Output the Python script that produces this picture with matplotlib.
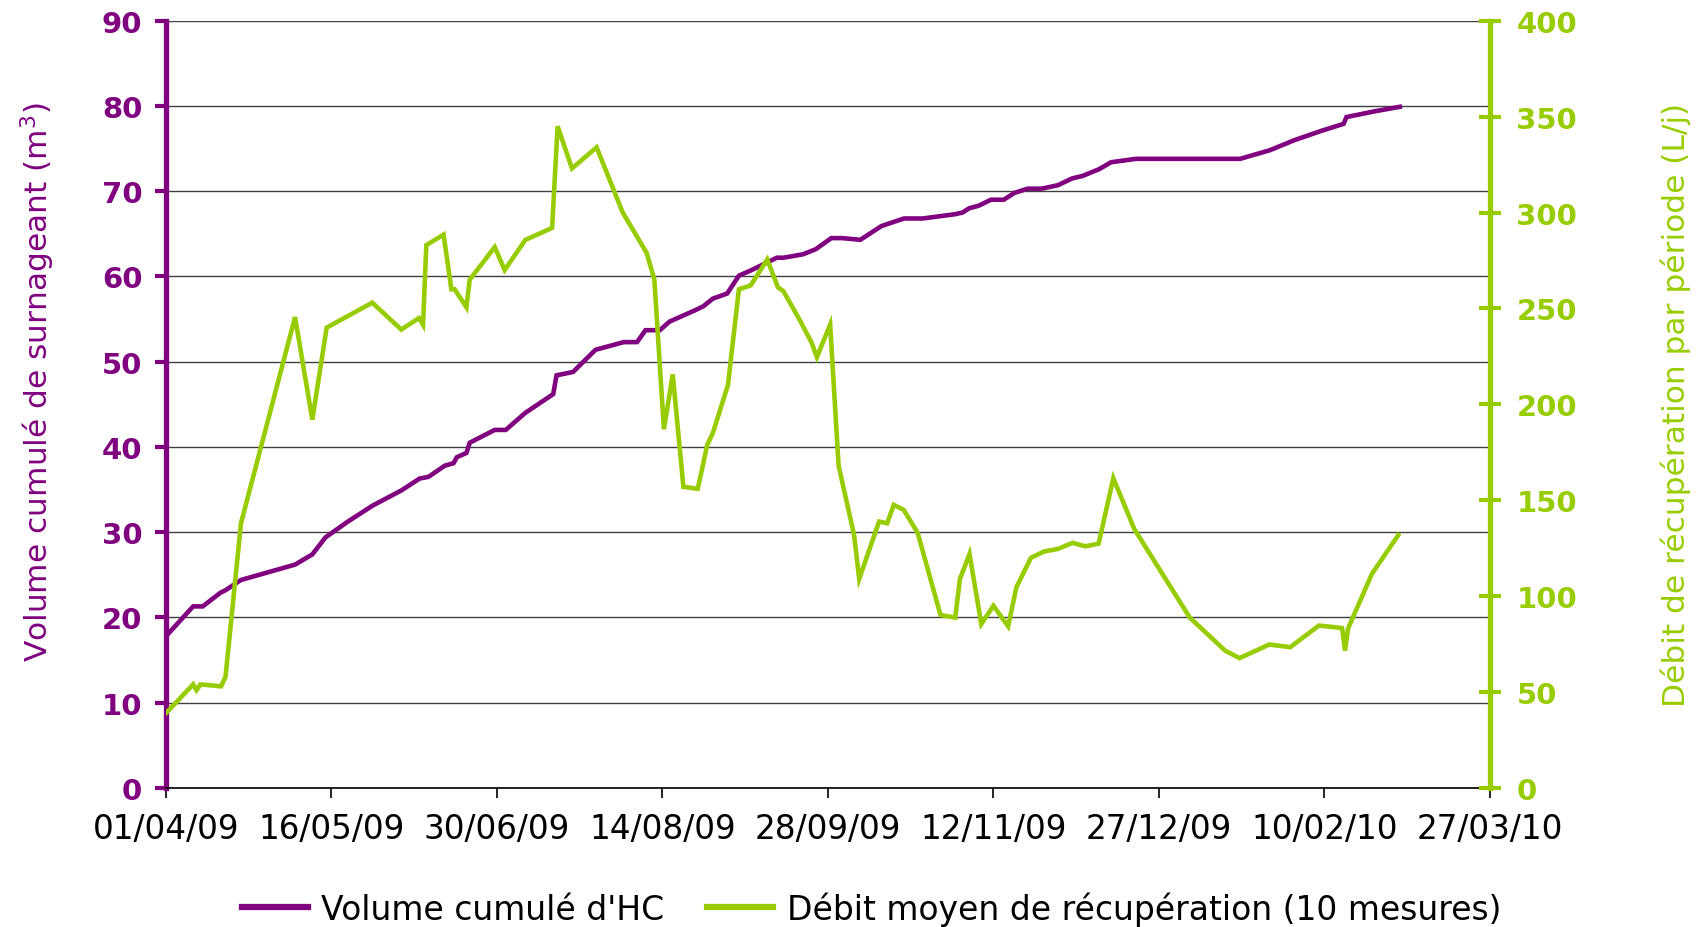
import matplotlib
matplotlib.use("Agg")
import matplotlib.pyplot as plt
import numpy as np

# jours depuis le 01/04/2009
vol_days = [0, 7.4, 10, 14.8, 16.2, 20.4, 35.1, 39.8, 43.4, 49.3, 56.1, 64, 69, 71.4, 75.8,
            78.2, 79.1, 81.7, 82.6, 89.4, 92.4, 97.7, 105.3, 106.2, 110.7, 116.8, 124.5,
            128.1, 130.4, 134.3, 136.9, 143.7, 146.1, 148.7, 152.6, 155.8, 159, 166.1,
            167.9, 173.2, 176.7, 180.9, 183.8, 188.8, 194.5, 196.5, 200.7, 205.7, 211,
            214.5, 216.6, 218.4, 221, 224.3, 227.8, 230.7, 234.3, 238.1, 242.5, 246.4,
            249.3, 253.8, 257, 263.8, 292.1, 300.1, 306.9, 314.3, 320.2, 321, 329, 335.5]
vol = [17.8, 21.3, 21.3, 22.9, 23.2, 24.4, 26.2, 27.4, 29.4, 31.2, 33.1, 34.9, 36.3, 36.5,
       37.8, 38.1, 38.8, 39.3, 40.5, 42.0, 42.0, 44.0, 46.2, 48.4, 48.8, 51.4, 52.3, 52.3,
       53.7, 53.7, 54.7, 56.0, 56.5, 57.4, 58.0, 60.1, 60.7, 62.2, 62.2, 62.6, 63.2, 64.5,
       64.5, 64.3, 65.9, 66.2, 66.8, 66.8, 67.1, 67.3, 67.5, 68.0, 68.3, 69.0, 69.0, 69.8,
       70.3, 70.3, 70.7, 71.5, 71.8, 72.6, 73.4, 73.8, 73.8, 74.8, 76.0, 77.1, 77.9, 78.7,
       79.4, 79.9]

deb_days = [0, 7.4, 8.3, 9.4, 15, 16.2, 20.4, 35.1, 39.8, 43.7, 56.1, 64, 68.8, 69.9, 70.8,
            75.5, 77.6, 78.5, 81.7, 82.6, 89.4, 92.1, 97.7, 105, 106.5, 110.4, 117.1, 124.2,
            130.7, 132.8, 135.4, 137.8, 140.7, 144.6, 147.2, 148.7, 152.8, 155.8, 159, 163.5,
            166.4, 167.9, 172.6, 175.6, 177, 180.6, 182.9, 187.1, 188.5, 193.9, 196.1, 197.9,
            200.6, 204.4, 210.6, 214.6, 215.9, 218.5, 221.7, 225, 229, 231.25, 235.2, 238.75,
            242.5, 246.5, 250, 253.6, 257.6, 263.3, 278.4, 288, 291.9, 300, 305.7, 313.5,
            319.8, 320.6, 321.4, 327.9, 335.1]
debit = [39, 54, 51, 54, 53, 58, 138, 245.5, 192, 240, 253, 239, 245, 241.5, 283, 288.5, 260,
         260, 250.6, 265, 282, 270, 285.7, 292, 345, 323, 334, 300, 279, 265, 187, 215.6, 157,
         156, 179, 185, 210, 260, 262, 275.5, 261, 259, 243, 232, 224.6, 241.6, 168, 132, 109,
         138.9, 138, 147.6, 145, 133, 90.2, 88.8, 109, 122, 85.5, 95, 84.3, 104.7, 120, 123.3,
         124.6, 127.8, 126, 127.4, 161.5, 135, 88.8, 71.6, 67.7, 74.8, 73.4, 84.7, 83.4, 71.6,
         83, 111.6, 131.9]

xtick_days = [0, 45, 90, 135, 180, 225, 270, 315, 360]
xtick_labels = ["01/04/09", "16/05/09", "30/06/09", "14/08/09", "28/09/09",
                "12/11/09", "27/12/09", "10/02/10", "27/03/10"]

violet = "#800080"
vert = "#99CC00"

fig = plt.figure(figsize=(17.02, 9.28), dpi=100)
ax = fig.add_axes([0.0975, 0.1498, 0.7779, 0.8268])
ax2 = ax.twinx()

l1, = ax.plot(vol_days, vol, color=violet, lw=3.3, solid_joinstyle="miter",
              label="Volume cumulé d'HC")
l2, = ax2.plot(deb_days, debit, color=vert, lw=3.3, solid_joinstyle="miter",
               label="Débit moyen de récupération (10 mesures)")

ax.set_xlim(0, 360)
ax.set_ylim(0, 90)
ax2.set_ylim(0, 400)
ax.set_yticks(np.arange(0, 91, 10))
ax2.set_yticks(np.arange(0, 401, 50))
ax.set_xticks(xtick_days)
ax.set_xticklabels(xtick_labels, fontsize=23.5)

ax.yaxis.grid(True, color="#404040", lw=1)
ax.set_axisbelow(True)

for a in (ax, ax2):
    a.spines["top"].set_visible(False)
ax2.spines["bottom"].set_visible(False)
ax2.spines["left"].set_visible(False)
ax.spines["right"].set_visible(False)
ax.spines["left"].set_color(violet)
ax.spines["left"].set_linewidth(3.8)
ax.spines["bottom"].set_color("black")
ax.spines["bottom"].set_linewidth(1.2)
ax2.spines["right"].set_color(vert)
ax2.spines["right"].set_linewidth(3.8)

ax.tick_params(axis="y", colors=violet, direction="out", length=8, width=3, pad=9)
ax.tick_params(axis="x", colors="black", direction="out", length=7, width=1.2, pad=10)
ax2.tick_params(axis="y", colors=vert, direction="inout", length=16, width=3, pad=11)
for t in ax.get_yticklabels() + ax2.get_yticklabels():
    t.set_fontsize(21)
    t.set_fontweight("bold")

ax.set_ylabel("Volume cumulé de surnageant (m$^{3}$)", color=violet, fontsize=22.5, labelpad=32)
ax2.set_ylabel("Débit de récupération par période (L/j)", color=vert, fontsize=22.5, labelpad=60)
ax.yaxis.label.set_y(0.53)

fig.legend(handles=[l1, l2], loc="center", bbox_to_anchor=(0.512, 0.02), ncol=2,
           frameon=False, fontsize=23.8, handlelength=2.0, columnspacing=1.3, handletextpad=0.4)
for h in fig.legends[0].get_lines():
    h.set_linewidth(4.5)

fig.savefig("out.png", dpi=100)
